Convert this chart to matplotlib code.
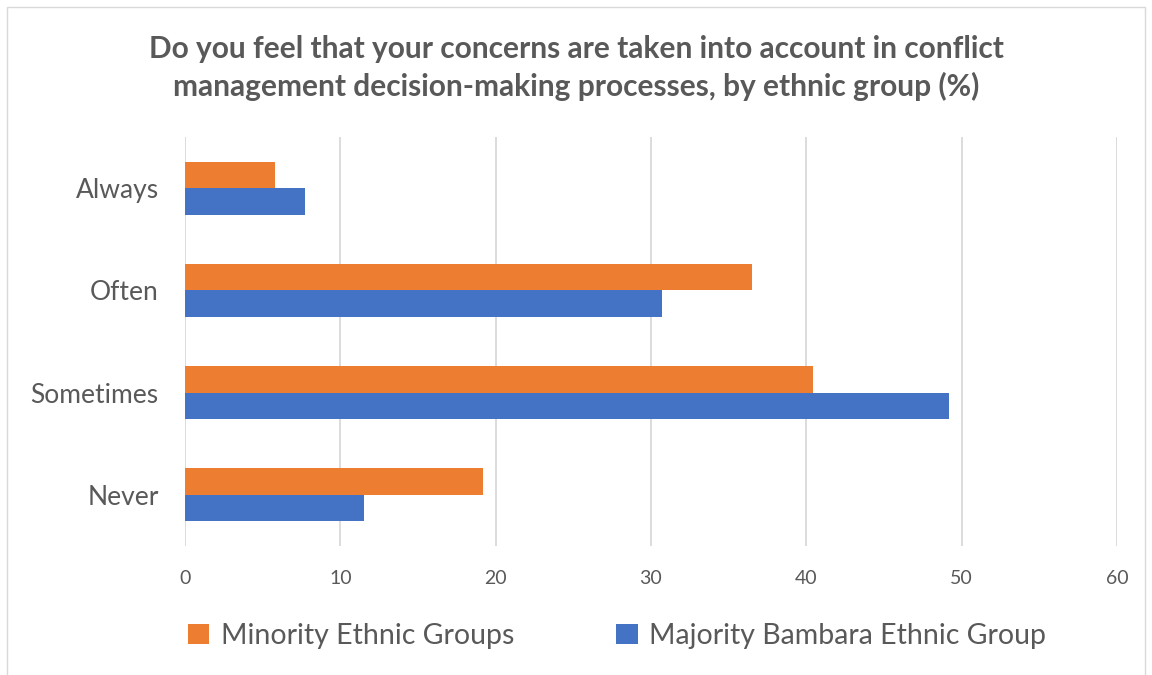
import matplotlib
matplotlib.use("Agg")
import matplotlib.pyplot as plt
import numpy as np
from matplotlib.patches import Rectangle

categories = ["Always", "Often", "Sometimes", "Never"]
minority = [5.8, 36.5, 40.4, 19.2]
majority = [7.7, 30.7, 49.2, 11.5]
series_names = ["Minority Ethnic Groups", "Majority Bambara Ethnic Group"]
xticks = [0, 10, 20, 30, 40, 50, 60]
title = "Do you feel that your concerns are taken into account in conflict\nmanagement decision-making processes, by ethnic group (%)"

ORANGE = "#ED7D31"
BLUE = "#4472C4"
TXT = "#595959"
FONT = "Lato"

W, H = 1152, 675
fig = plt.figure(figsize=(W / 100, H / 100), dpi=100)
fig.patch.set_facecolor("white")

# outer border
fig.add_artist(Rectangle((7 / W, -0.01), (1145 - 7) / W, (H - 7) / H + 0.01,
                         transform=fig.transFigure, fill=False,
                         edgecolor="#D9D9D9", linewidth=1.0))

ax = fig.add_axes([185 / W, 1 - 546 / H, (1117 - 185) / W, (546 - 137) / H])
y = np.arange(len(categories))
h = 0.26
ax.barh(y - h / 2, minority, height=h, color=ORANGE, label=series_names[0], zorder=3)
ax.barh(y + h / 2, majority, height=h, color=BLUE, label=series_names[1], zorder=3)

ax.set_ylim(len(categories) - 0.5, -0.5)
ax.set_xlim(0, 60)
ax.set_xticks(xticks)
ax.set_xticklabels([str(t) for t in xticks], fontsize=14, color=TXT, family=FONT)
ax.tick_params(axis="both", length=0)
ax.set_yticks(y)
ax.set_yticklabels(categories, fontsize=19, color=TXT, family=FONT)
ax.tick_params(axis="x", pad=17)
ax.tick_params(axis="y", pad=19)
ax.grid(axis="x", color="#D9D9D9", linewidth=1.3, zorder=0)
for s in ax.spines.values():
    s.set_visible(False)

fig.text(0.5, 1 - 68 / H, title, ha="center", va="center", fontsize=21.5,
         fontweight="bold", color=TXT, family=FONT, linespacing=1.35)

leg = fig.legend(loc="center", bbox_to_anchor=(617 / W, 1 - 636 / H), ncol=2,
                 frameon=False, prop={"family": FONT, "size": 20.5},
                 handlelength=0.75, handleheight=0.75, handletextpad=0.4,
                 columnspacing=3.6)
for t in leg.get_texts():
    t.set_color(TXT)

fig.savefig("out.png", dpi=100, facecolor="white")
